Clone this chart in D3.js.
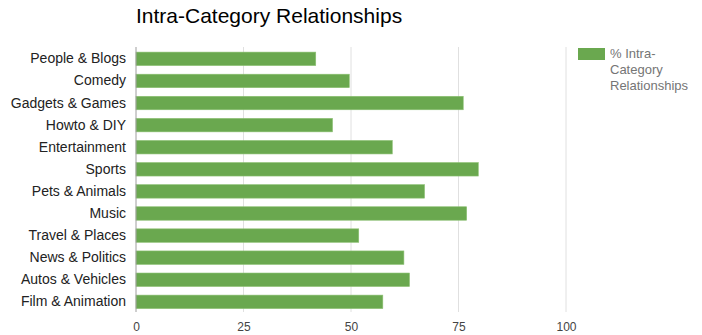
<!DOCTYPE html>
<html><head><meta charset="utf-8">
<script src="https://cdn.jsdelivr.net/npm/d3@7"></script>
<style>body{margin:0;background:#fff}svg{display:block;font-family:"Liberation Sans",Arial,sans-serif}</style>
</head><body><svg id="c" width="702" height="335"></svg>
<script>
const categories = ["People & Blogs","Comedy","Gadgets & Games","Howto & DIY","Entertainment","Sports","Pets & Animals","Music","Travel & Places","News & Politics","Autos & Vehicles","Film & Animation"];
const values = [41.8,49.6,76.1,45.7,59.6,79.6,67.1,76.9,51.8,62.3,63.6,57.4];
const ticks = [0,25,50,75,100];
const seriesName = "% Intra-Category Relationships";
const legendLines = ["% Intra-","Category","Relationships"];

const svg = d3.select("#c");
const x = d3.scaleLinear().domain([0,100]).range([136,566]);
const y = d3.scaleBand().domain(categories).range([47.8,312.9]).paddingInner(0.39).paddingOuter(0.195);

svg.append("text").attr("x",136).attr("y",23).attr("font-size",21).attr("fill","#000").text("Intra-Category Relationships");

const g = svg.append("g");
g.selectAll("line.grid").data(ticks.slice(1)).join("line")
  .attr("x1",d=>x(d)).attr("x2",d=>x(d)).attr("y1",47).attr("y2",312)
  .attr("stroke","#e0e0e0").attr("stroke-width",1);

g.selectAll("rect.bar").data(values).join("rect")
  .attr("x",x(0)).attr("y",(d,i)=>y(categories[i]))
  .attr("width",d=>x(d)-x(0)).attr("height",y.bandwidth())
  .attr("fill","#6aa84f").attr("stroke","#8cc072").attr("stroke-width",0.6);

g.append("line").attr("x1",x(0)).attr("x2",x(0)).attr("y1",47).attr("y2",312).attr("stroke","#9e9e9e");

const xAxis = d3.axisBottom(x).tickValues(ticks).tickSize(0).tickPadding(0);
const ax = svg.append("g").attr("transform","translate(0,331)").call(xAxis);
ax.select(".domain").remove();
ax.selectAll("text").attr("font-size",12).attr("fill","#444").attr("dy",0).attr("font-family","Liberation Sans, Arial, sans-serif");

const yAxis = d3.axisLeft(y).tickSize(0).tickPadding(0);
const ay = svg.append("g").attr("transform","translate(126,0)").call(yAxis);
ay.select(".domain").remove();
ay.selectAll("text").attr("font-size",14).attr("fill","#222").attr("font-family","Liberation Sans, Arial, sans-serif");

svg.append("rect").attr("x",578).attr("y",48).attr("width",27).attr("height",12).attr("fill","#6aa84f");
svg.append("text").attr("x",610).attr("y",58).attr("font-size",13).attr("fill","#757575")
  .selectAll("tspan").data(legendLines).join("tspan").attr("x",610).attr("dy",(d,i)=>i?16:0).text(d=>d);
</script></body></html>
